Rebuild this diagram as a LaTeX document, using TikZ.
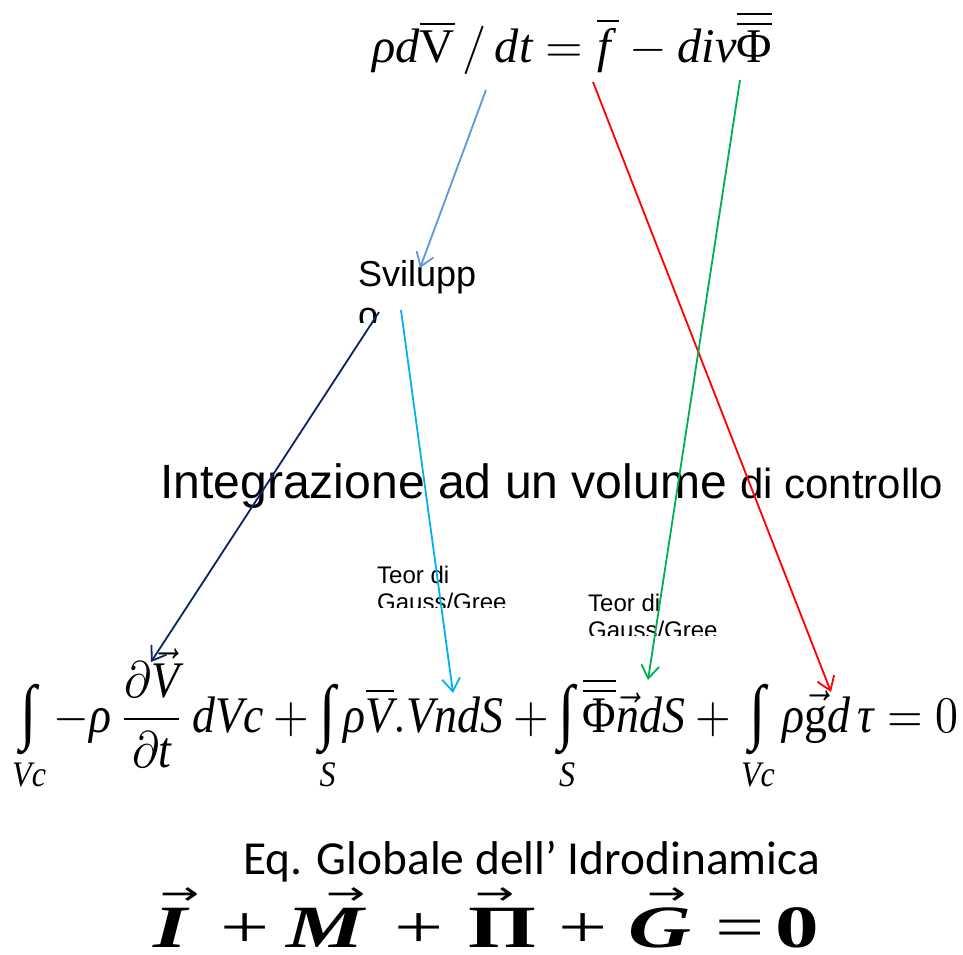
\documentclass[tikz,border=0pt]{standalone}
\usepackage{amsmath}
\usepackage{graphicx}
\usepackage{fontspec}
\setmainfont{Liberation Serif}
\newfontfamily\arialf{Liberation Sans}
\newfontfamily\calibrif{Carlito}
\newfontfamily\dejavuf{DejaVu Sans}
\usetikzlibrary{arrows.meta}
\newcommand{\mi}[1]{\textit{#1}}
\newcommand{\tint}[1]{\mathop{\vcenter{\hbox{\scalebox{1.3}[1.4]{∫}}}}\limits_{#1}}
% vector glyph: #1 arrow offset, #2 glyph
\newcommand{\vglyph}[2]{\rlap{\hspace*{#1}\raisebox{43pt}{\dejavuf\fontsize{32}{32}\selectfont →}}#2}
\definecolor{cLightBlue}{HTML}{5B9BD5}
\definecolor{cRed}{HTML}{FF0000}
\definecolor{cGreen}{HTML}{00B050}
\definecolor{cNavy}{HTML}{0B2466}
\definecolor{cCyan}{HTML}{00B0F0}
\tikzset{
  arr/.style={-{Straight Barb[length=13pt,width=18pt,line width=1.8pt]}, line width=1.8pt},
  lbl/.style={inner sep=0pt, anchor=base west},
  small/.style={lbl, font=\arialf\fontsize{24}{27}\selectfont},
}
\begin{document}
\begin{tikzpicture}[x=1pt,y=-1pt]
\useasboundingbox (0,0) rectangle (963,954);
\fill[white] (0,0) rectangle (963,954);

% top equation
\node[lbl] (topeq) at (372,62) {\resizebox{400pt}{!}{$\mi{ρd}\overline{\text{V}}\,/\,\mi{dt} = \overline{\mi{f}\,} - \mi{div}\overline{\overline{\text{Φ}}}$}};

% Sviluppo (clipped)
\begin{scope}
  \clip (340,230) rectangle (520,322);
  \node[lbl, font=\arialf\fontsize{36}{40}\selectfont] (svil) at (358,286) {Svilupp};
  \node[lbl, font=\arialf\fontsize{36}{40}\selectfont] (svilo) at (358,327) {o};
\end{scope}

% Integrazione
\node[lbl] (integ) at (160,498) {\resizebox{783pt}{!}{\arialf{\fontsize{47}{50}\selectfont Integrazione ad un volume }{\fontsize{41}{44}\selectfont di controllo}}};

% Teor di labels (clipped)
\begin{scope}
  \clip (370,555) rectangle (520,607);
  \node[small] (teor1) at (377,583) {Teor di};
  \node[small] (gauss1) at (377,610) {Gauss/Gree};
\end{scope}
\begin{scope}
  \clip (580,585) rectangle (730,635);
  \node[small] (teor2) at (588,611) {Teor di};
  \node[small] (gauss2) at (588,638) {Gauss/Gree};
\end{scope}

% integral equation
\node[lbl] (inteq) at (12,732) {\resizebox{946pt}{!}{\scalebox{1}[1.12]{$\displaystyle \tint{\mi{Vc}} - \mi{ρ}\,\frac{\partial\vec{\mi{V}}}{\partial\mi{t}}\,\mi{dVc} + \tint{\mi{S}}\mi{ρ}\overline{\mi{V}}.\mi{VndS} + \tint{\mi{S}}\overline{\overline{\text{Φ}}}\vec{\mi{n}}\mi{dS} + \tint{\mi{Vc}}\mi{ρ}\vec{\text{g}}\mi{d\,τ} = 0$}}};

% Eq. Globale
\node[lbl] (eqglob) at (243,874) {\resizebox{577pt}{!}{\calibrif\fontsize{40}{44}\selectfont Eq. Globale dell’ Idrodinamica}};

% final equation
\node[lbl] (final) at (153,947) {\resizebox{666pt}{\height}{\fontsize{60}{60}\selectfont
  \vglyph{5pt}{\textbf{\textit{I}}}\hspace{21pt}+\hspace{12pt}\vglyph{27pt}{\textbf{\textit{M}}}\hspace{19pt}+\hspace{17pt}\vglyph{5pt}{\textbf{Π}}\hspace{15pt}+\hspace{14.5pt}\vglyph{13pt}{\textbf{\textit{G}}}\hspace{16.5pt}=\hspace{7.5pt}\textbf{0}}};

% arrow endpoints
\coordinate (a1s) at (486,90);   \coordinate (a1e) at (420,268);
\coordinate (a2s) at (593,82);   \coordinate (a2e) at (831,692);
\coordinate (a3s) at (740,80);   \coordinate (a3e) at (648,680);
\coordinate (a4s) at (379,312);  \coordinate (a4e) at (151,662);
\coordinate (a5s) at (401,310);  \coordinate (a5e) at (453,693);

\draw[arr, cLightBlue] (a1s) -- (a1e);
\draw[arr, cRed] (a2s) -- (a2e);
\draw[arr, cGreen] (a3s) -- (a3e);
\draw[arr, cNavy] (a4s) -- (a4e);
\draw[arr, cCyan] (a5s) -- (a5e);
\end{tikzpicture}
\end{document}
